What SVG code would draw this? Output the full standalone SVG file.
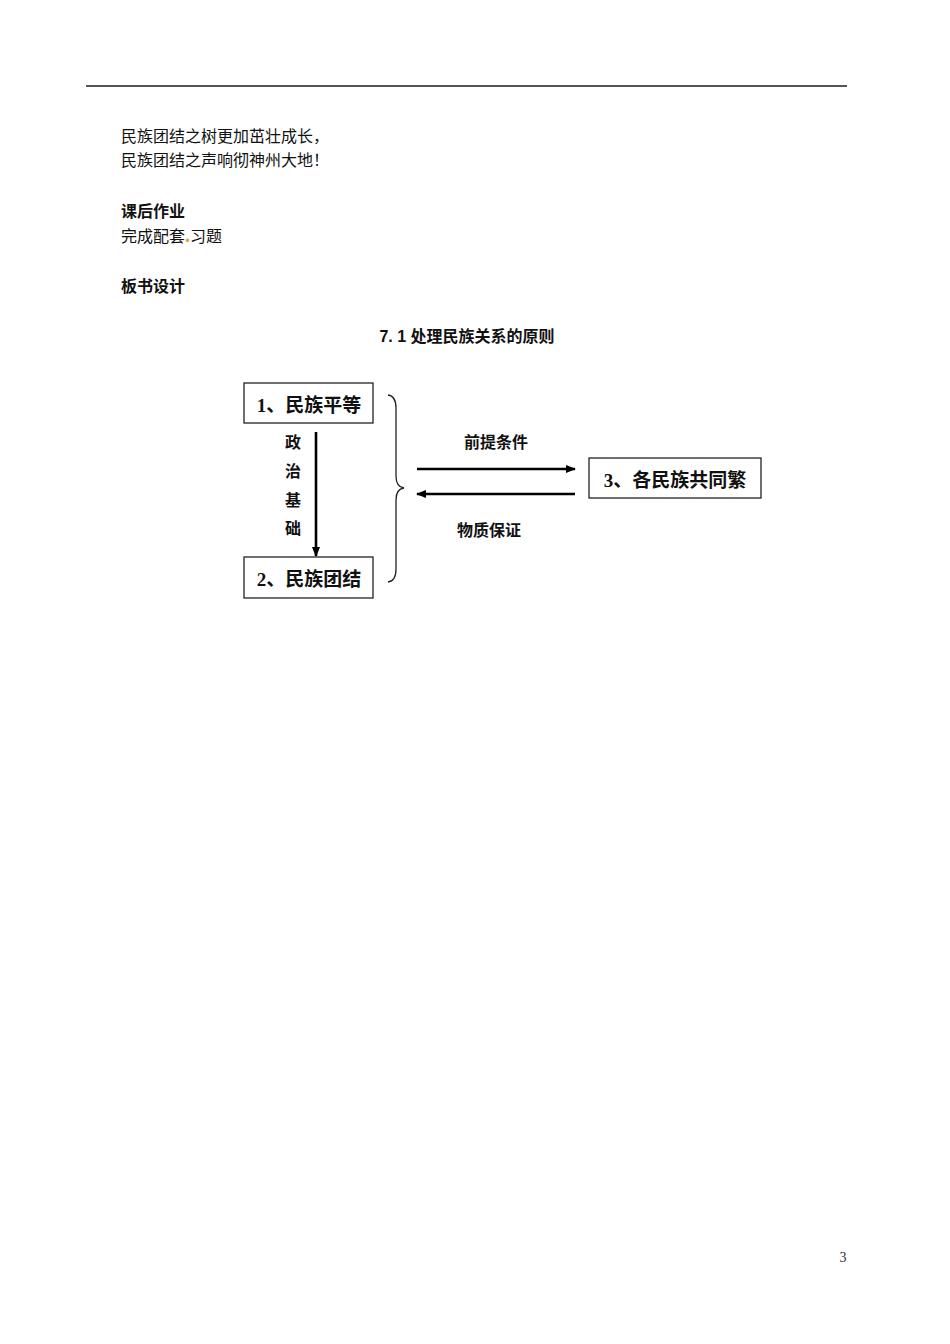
<svg xmlns="http://www.w3.org/2000/svg" width="950" height="1344" viewBox="0 0 950 1344">
<defs>
<style>
.body{font-family:"Liberation Serif","Noto Sans CJK SC",serif;font-size:16px;fill:#111}
.bold{font-family:"Liberation Sans","Noto Sans CJK SC",sans-serif;font-size:16px;font-weight:bold;fill:#111}
.lbl{font-family:"Liberation Sans","Noto Sans CJK SC",sans-serif;font-size:16px;font-weight:bold;fill:#111}
.box{fill:#fff;stroke:#222;stroke-width:1.3}
.boxtxt{font-family:"Liberation Serif","Noto Sans CJK SC",serif;font-size:19px;font-weight:bold;fill:#111;text-anchor:middle}
.arr{stroke:#000;stroke-width:2.6;fill:none}
</style>
<marker id="ah" viewBox="0 0 10 10" refX="9" refY="5" markerWidth="4" markerHeight="4" orient="auto" markerUnits="strokeWidth">
<path d="M0,1 L10,5 L0,9 z" fill="#000"/>
</marker>
</defs>
<rect width="950" height="1344" fill="#fff"/>
<line x1="86" y1="86" x2="847" y2="86" stroke="#555" stroke-width="2"/>
<text class="body" x="121" y="142">民族团结之树更加茁壮成长，</text>
<text class="body" x="121" y="166">民族团结之声响彻神州大地！</text>
<text class="bold" x="121" y="217">课后作业</text>
<text class="body" x="121" y="242">完成配套<tspan fill="#e0a030" font-weight="bold" font-size="20">.</tspan>习题</text>
<text class="bold" x="121" y="292">板书设计</text>
<text class="lbl" x="467" y="342" text-anchor="middle" font-size="16.5">7. 1 处理民族关系的原则</text>

<g id="connectors">
<line class="arr" x1="316" y1="432" x2="316" y2="556" marker-end="url(#ah)"/>
<line class="arr" x1="417" y1="469" x2="575" y2="469" marker-end="url(#ah)"/>
<line class="arr" x1="575" y1="494" x2="417" y2="494" marker-end="url(#ah)"/>
<path d="M388,395 Q396,396 396,408 L396,476 Q396,487 404,488 Q396,489 396,500 L396,569 Q396,581 388,582" fill="none" stroke="#222" stroke-width="1.3"/>
<text class="lbl" x="293" y="448" text-anchor="middle">政</text>
<text class="lbl" x="293" y="477" text-anchor="middle">治</text>
<text class="lbl" x="293" y="506" text-anchor="middle">基</text>
<text class="lbl" x="293" y="534" text-anchor="middle">础</text>
<text class="lbl" x="496" y="448" text-anchor="middle">前提条件</text>
<text class="lbl" x="489" y="536" text-anchor="middle">物质保证</text>
</g>

<g id="node1">
<rect class="box" x="244" y="383" width="129" height="40"/>
<text class="boxtxt" x="309" y="412">1、民族平等</text>
</g>
<g id="node2">
<rect class="box" x="244" y="557" width="129" height="41"/>
<text class="boxtxt" x="309" y="586">2、民族团结</text>
</g>
<g id="node3">
<rect class="box" x="589" y="458" width="172" height="40"/>
<text class="boxtxt" x="675" y="487">3、各民族共同繁</text>
</g>

<text x="843" y="1262" font-family="Liberation Serif, serif" font-size="14" fill="#333" text-anchor="middle">3</text>
</svg>
